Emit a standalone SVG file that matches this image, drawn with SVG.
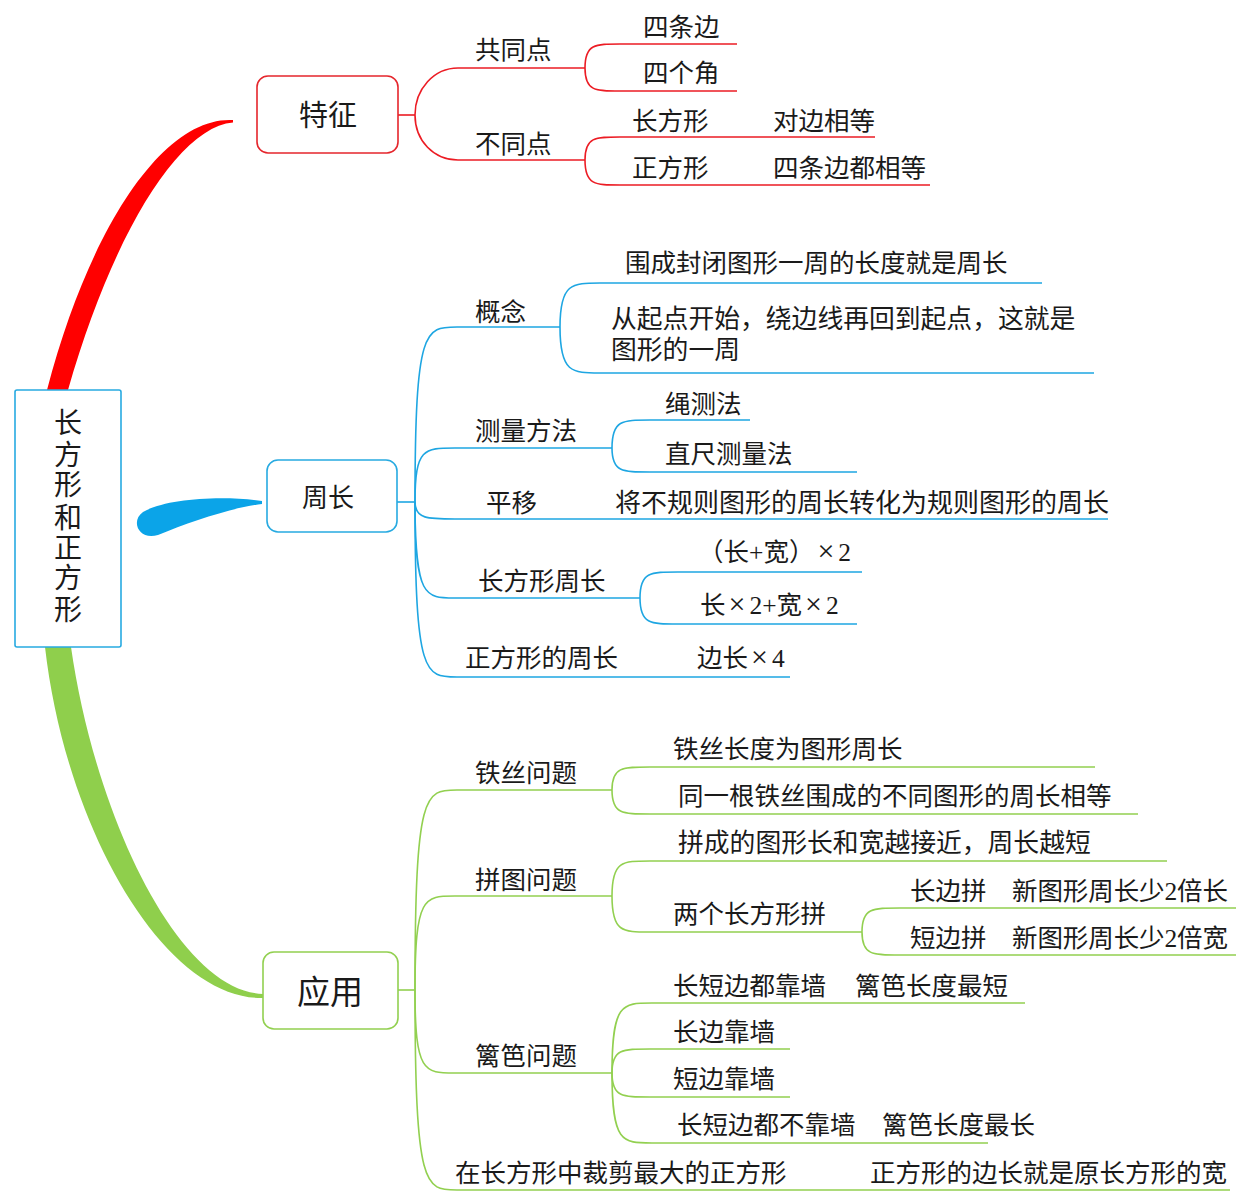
<svg xmlns="http://www.w3.org/2000/svg" width="1242" height="1200" viewBox="0 0 1242 1200">
<style>
text{font-family:"Liberation Serif","Noto Sans CJK SC",serif;font-size:25.5px;fill:#1a1a1a}
.r{stroke:#ec1c24;fill:none;stroke-width:1.6}
.b{stroke:#1ea6e2;fill:none;stroke-width:1.6}
.g{stroke:#92d050;fill:none;stroke-width:1.6}
.big{font-size:25.8px}
.mid{text-anchor:middle}
.x{font-size:30px}
</style>
<rect width="1242" height="1200" fill="#fff"/>
<g id="connectors">
<path d="M47 390 C90 226 164 116 233 120 L233 122.5 C178 127 112 236 68 390 Z" fill="#ff0000"/>
<path d="M262 501 C220 495 165 499 143 512 C130 521 139 541 158 535 C190 522 230 508 262 504 Z" fill="#0ba4e8"/>
<path d="M45 647 C66 830 165 1000 263 998 L263 994 C178 991 95 815 71 647 Z" fill="#8fcf4c"/>
<path class="r" d="M398 115 H415"/>
<path class="r" d="M415 115 C415 89 434 68 458 68 H585"/>
<path class="r" d="M415 115 C415 141 434 160 458 160 H585"/>
<path class="r" d="M585 68 C585 44 595 44 620 44 H737"/>
<path class="r" d="M585 68 C585 91 595 91 620 91 H737"/>
<path class="r" d="M585 160 C585 137 595 137 620 137 H875"/>
<path class="r" d="M585 160 C585 185 595 185 620 185 H930"/>
<path class="b" d="M396 502 H415"/>
<path class="b" d="M415 502 C415 327 425 327 457 327 H560"/>
<path class="b" d="M415 502 C415 448 424 448 455 448 H612"/>
<path class="b" d="M415 502 C415 519 428 519 455 519 H1108"/>
<path class="b" d="M415 502 C415 598 425 598 455 598 H640"/>
<path class="b" d="M415 502 C415 677 425 677 457 677 H790"/>
<path class="b" d="M560 327 C560 283 572 283 600 283 H1042"/>
<path class="b" d="M560 327 C560 373 572 373 600 373 H1094"/>
<path class="b" d="M612 448 C612 420 622 420 650 420 H750"/>
<path class="b" d="M612 448 C612 472 622 472 650 472 H857"/>
<path class="b" d="M640 598 C640 572 650 572 678 572 H862"/>
<path class="b" d="M640 598 C640 624 650 624 678 624 H857"/>
<path class="g" d="M398 990 H415"/>
<path class="g" d="M415 990 C415 790 425 790 457 790 H612"/>
<path class="g" d="M415 990 C415 896 424 896 455 896 H612"/>
<path class="g" d="M415 990 C415 1073 424 1073 455 1073 H612"/>
<path class="g" d="M415 990 C415 1190 425 1190 457 1190 H1230"/>
<path class="g" d="M612 790 C612 767 622 767 650 767 H1095"/>
<path class="g" d="M612 790 C612 814 622 814 650 814 H1138"/>
<path class="g" d="M612 896 C612 861 622 861 650 861 H1167"/>
<path class="g" d="M612 896 C612 932 622 932 650 932 H862"/>
<path class="g" d="M862 932 C862 908 872 908 900 908 H1236"/>
<path class="g" d="M862 932 C862 955 872 955 900 955 H1236"/>
<path class="g" d="M612 1073 C612 1003 622 1003 652 1003 H1025"/>
<path class="g" d="M612 1073 C612 1049 622 1049 650 1049 H790"/>
<path class="g" d="M612 1073 C612 1097 622 1097 650 1097 H790"/>
<path class="g" d="M612 1073 C612 1143 622 1143 652 1143 H988"/>
</g>
<g id="root">
<rect x="15" y="390" width="106" height="257" rx="2" fill="#fff" stroke="#27aae1" stroke-width="1.6"/>
<text class="mid" x="68" style="font-size:28px"><tspan x="68" y="433">长</tspan><tspan x="68" y="465">方</tspan><tspan x="68" y="495">形</tspan><tspan x="68" y="528">和</tspan><tspan x="68" y="558">正</tspan><tspan x="68" y="588">方</tspan><tspan x="68" y="620">形</tspan></text>
</g>
<g id="n-tezheng">
<rect x="257" y="76" width="141" height="77" rx="11" fill="#fff" stroke="#e5262c" stroke-width="1.6"/>
<text class="mid" x="328" y="126" style="font-size:29px">特征</text>
</g>
<g id="n-zhouchang">
<rect x="267" y="460" width="130" height="72" rx="11" fill="#fff" stroke="#27aae1" stroke-width="1.6"/>
<text class="mid" x="328" y="507" style="font-size:26px">周长</text>
</g>
<g id="n-yingyong">
<rect x="263" y="952" width="135" height="77" rx="11" fill="#fff" stroke="#92d050" stroke-width="1.6"/>
<text class="mid" x="330" y="1004" style="font-size:33px">应用</text>
</g>
<g id="red-topics">
<text x="475" y="59">共同点</text>
<text x="475" y="153">不同点</text>
<text x="643" y="36">四条边</text>
<text x="643" y="82">四个角</text>
<text x="632" y="130">长方形</text>
<text x="773" y="130">对边相等</text>
<text x="632" y="177">正方形</text>
<text x="773" y="177">四条边都相等</text>
</g>
<g id="blue-topics">
<text x="475" y="321">概念</text>
<text x="625" y="272">围成封闭图形一周的长度就是周长</text>
<text class="big" x="611" y="328">从起点开始，绕边线再回到起点，这就是</text>
<text class="big" x="611" y="359">图形的一周</text>
<text x="475" y="440">测量方法</text>
<text x="665" y="413">绳测法</text>
<text x="665" y="463">直尺测量法</text>
<text x="486" y="512">平移</text>
<text x="615" y="512" style="font-size:26px">将不规则图形的周长转化为规则图形的周长</text>
<text x="478" y="590">长方形周长</text>
<text x="698" y="561">（长+宽）<tspan class="x" dx="3">×</tspan><tspan dx="4">2</tspan></text>
<text x="700" y="614">长<tspan class="x" dx="3">×</tspan><tspan dx="4">2+宽</tspan><tspan class="x" dx="3">×</tspan><tspan dx="4">2</tspan></text>
<text x="465" y="667">正方形的周长</text>
<text x="697" y="667">边长<tspan class="x" dx="3">×</tspan><tspan dx="4">4</tspan></text>
</g>
<g id="green-topics">
<text x="475" y="782">铁丝问题</text>
<text x="673" y="758">铁丝长度为图形周长</text>
<text x="678" y="805">同一根铁丝围成的不同图形的周长相等</text>
<text x="475" y="889">拼图问题</text>
<text class="big" x="678" y="852">拼成的图形长和宽越接近，周长越短</text>
<text x="673" y="923">两个长方形拼</text>
<text x="910" y="900">长边拼</text>
<text x="1012" y="900" textLength="216" lengthAdjust="spacing">新图形周长少2倍长</text>
<text x="910" y="947">短边拼</text>
<text x="1012" y="947" textLength="216" lengthAdjust="spacing">新图形周长少2倍宽</text>
<text x="475" y="1065">篱笆问题</text>
<text x="673" y="995">长短边都靠墙</text>
<text x="855" y="995">篱笆长度最短</text>
<text x="673" y="1041">长边靠墙</text>
<text x="673" y="1088">短边靠墙</text>
<text x="677" y="1134">长短边都不靠墙</text>
<text x="882" y="1134">篱笆长度最长</text>
<text x="455" y="1182">在长方形中裁剪最大的正方形</text>
<text x="870" y="1182">正方形的边长就是原长方形的宽</text>
</g>
</svg>
